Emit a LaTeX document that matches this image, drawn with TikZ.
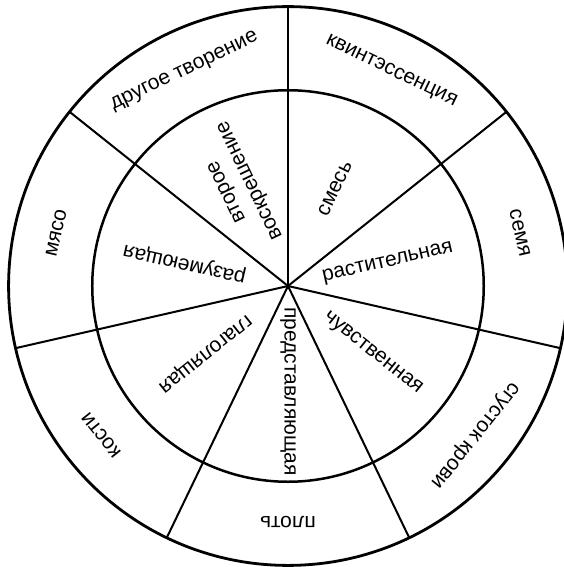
\documentclass[tikz,border=0pt]{standalone}
\usepackage{fontspec}
\setmainfont{Liberation Sans}

\begin{document}
\begin{tikzpicture}[x=1cm,y=1cm]
    \tikzset{
        ring/.style={line width=1.4pt},
        spoke/.style={line width=1pt},
        label/.style={font=\fontsize{10.5}{13}\selectfont,inner sep=1pt,align=center},
    }
    \useasboundingbox (-5.061,-4.938) rectangle (4.833,5.026);

    % Two rings round one hub; seven equal sectors, the first spoke straight up.
    \coordinate (hub) at (0,0);
    \draw[ring] (hub) circle[radius=4.91];
    \draw[ring,line width=1.25pt] (hub) circle[radius=3.44];

    \coordinate (e1) at (90:4.91);
    \coordinate (e2) at (38.571:4.91);
    \coordinate (e3) at (-12.857:4.91);
    \coordinate (e4) at (-64.286:4.91);
    \coordinate (e5) at (-115.714:4.91);
    \coordinate (e6) at (-167.143:4.91);
    \coordinate (e7) at (141.429:4.91);
    \draw[spoke] (hub) -- (e1);
    \draw[spoke] (hub) -- (e2);
    \draw[spoke] (hub) -- (e3);
    \draw[spoke] (hub) -- (e4);
    \draw[spoke] (hub) -- (e5);
    \draw[spoke] (hub) -- (e6);
    \draw[spoke] (hub) -- (e7);

    % Outer ring: text runs along the ring, tops outward.
    \node[label,rotate=-25.714] (kvint) at (64.286:4.18) {квинтэссенция};
    \node[label,rotate=-77.143] (semya) at (12.857:4.18) {семя};
    \node[label,rotate=-128.571] (sgustok) at (-38.571:4.18) {сгусток крови};
    \node[label,rotate=180] (plot) at (-90:4.14) {плоть};
    \node[label,rotate=128.571] (kosti) at (-141.429:4.2) {кости};
    \node[label,rotate=77.143] (myaso) at (167.143:4.18) {мясо};
    \node[label,rotate=25.714] (drugoe) at (115.714:4.18) {другое творение};

    % Inner ring: text runs outward from the hub.
    \node[label,rotate=64.286] (smes) at (64.286:1.9) {смесь};
    \node[label,rotate=12.857] (rast) at (12.857:1.8) {растительная};
    \node[label,rotate=-38.571] (chuvst) at (-38.571:1.9) {чувственная};
    \node[label,rotate=-90] (pred) at (-90:1.85) {представляющая};
    \node[label,rotate=-141.429] (glag) at (-141.429:1.88) {глаголящая};
    \node[label,rotate=167.143] (razum) at (167.143:1.86) {разумеющая};
    \node[label,rotate=115.714] (vtoroe) at (115.714:1.96) {второе\\воскрешение};
\end{tikzpicture}
\end{document}
